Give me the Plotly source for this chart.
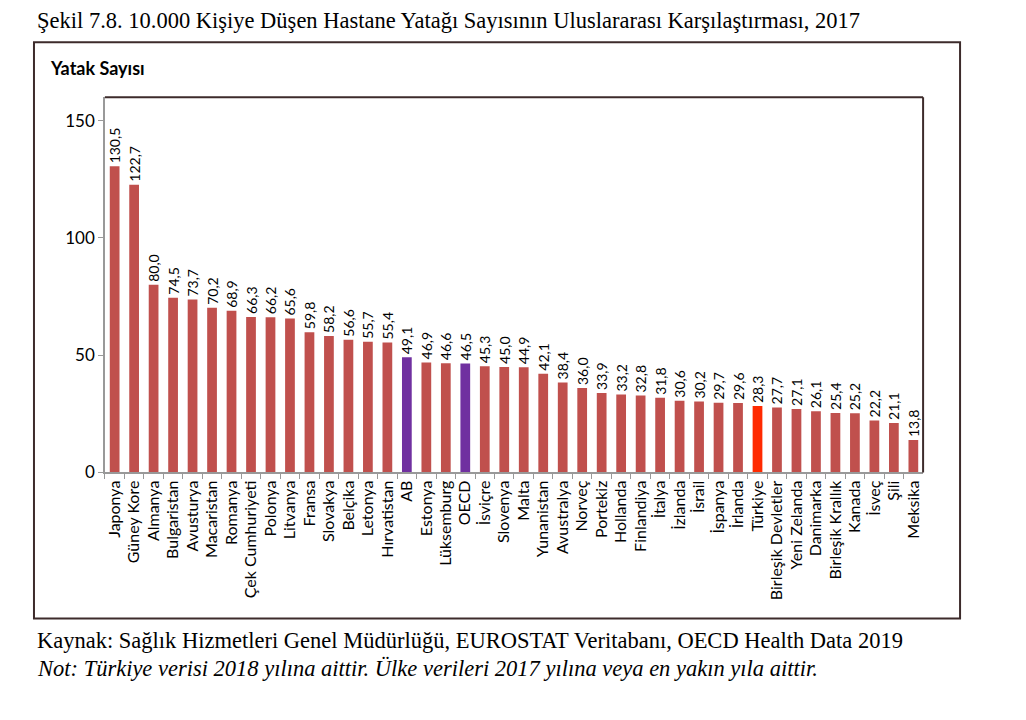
import plotly.graph_objects as go

countries = [
    "Japonya", "Güney Kore", "Almanya", "Bulgaristan", "Avusturya", "Macaristan",
    "Romanya", "Çek Cumhuriyeti", "Polonya", "Litvanya", "Fransa", "Slovakya",
    "Belçika", "Letonya", "Hırvatistan", "AB", "Estonya", "Lüksemburg", "OECD",
    "İsviçre", "Slovenya", "Malta", "Yunanistan", "Avustralya", "Norveç",
    "Portekiz", "Hollanda", "Finlandiya", "İtalya", "İzlanda", "İsrail",
    "İspanya", "İrlanda", "Türkiye", "Birleşik Devletler", "Yeni Zelanda",
    "Danimarka", "Birleşik Krallık", "Kanada", "İsveç", "Şili", "Meksika",
]
beds = [
    130.5, 122.7, 80.0, 74.5, 73.7, 70.2, 68.9, 66.3, 66.2, 65.6, 59.8, 58.2,
    56.6, 55.7, 55.4, 49.1, 46.9, 46.6, 46.5, 45.3, 45.0, 44.9, 42.1, 38.4,
    36.0, 33.9, 33.2, 32.8, 31.8, 30.6, 30.2, 29.7, 29.6, 28.3, 27.7, 27.1,
    26.1, 25.4, 25.2, 22.2, 21.1, 13.8,
]
y_ticks = [0, 50, 100, 150]

RED = "#C0504D"
PURPLE = "#7030A0"
TR_RED = "#FF2A00"
colors = [PURPLE if c in ("AB", "OECD") else TR_RED if c == "Türkiye" else RED
          for c in countries]

sans = "Lato, 'Open Sans', sans-serif"
serif = "'Liberation Serif', 'Times New Roman', serif"

# the page body has an 8px margin, so the figure starts at (8, 8);
# keep the height a bit short so the page never grows past the window
OFF = 8
W, H = 1026 - 2 * OFF, 700
YS = 1 / 0.985  # small vertical correction measured on the screenshot


def px(x):
    return (x - OFF) / W


def py(y):
    return 1 - (y * YS - OFF) / H


fig = go.Figure(go.Bar(
    x=countries, y=beds,
    marker=dict(color=colors, line=dict(width=0)),
    texttemplate="%{y:.1f}", textposition="outside", textangle=-90,
    textfont=dict(family=sans, size=14, color="#000"),
    constraintext="none", cliponaxis=False,
))

fig.update_layout(
    width=W, height=H,
    margin=dict(l=0, r=0, t=0, b=0),
    paper_bgcolor="white", plot_bgcolor="white",
    separators=",.",
    showlegend=False,
    bargap=0.5,
    font=dict(family=sans, color="#000"),
    xaxis=dict(
        domain=[px(104), px(923)], tickangle=-90, tickfont=dict(size=16),
        ticks="outside", tickson="boundaries", ticklen=5, tickcolor="#999",
        showline=True, linecolor="#999", linewidth=1.5,
    ),
    yaxis=dict(
        domain=[py(472), py(97)], range=[0, 160], tickvals=y_ticks,
        tickfont=dict(size=17), ticks="outside", ticklen=5, tickcolor="#999",
        showline=True, linecolor="#999", linewidth=1.5, showgrid=False,
        zeroline=False,
    ),
    shapes=[
        # outer frame
        dict(type="rect", xref="paper", yref="paper",
             x0=px(33), x1=px(960), y0=py(618), y1=py(42),
             line=dict(color="#3d2b2b", width=2)),
        # top and right edges of the plot area
        dict(type="line", xref="x domain", yref="y domain",
             x0=0, x1=1, y0=1, y1=1, line=dict(color="#3d2b2b", width=2)),
        dict(type="line", xref="x domain", yref="y domain",
             x0=1, x1=1, y0=0, y1=1, line=dict(color="#3d2b2b", width=2)),
    ],
    annotations=[
        dict(text="Şekil 7.8. 10.000 Kişiye Düşen Hastane Yatağı Sayısının "
                  "Uluslararası Karşılaştırması, 2017",
             xref="paper", yref="paper", x=px(34), y=py(20),
             xanchor="left", yanchor="middle", showarrow=False,
             font=dict(family=serif, size=22.5, color="#000")),
        dict(text="<b>Yatak Sayısı</b>",
             xref="paper", yref="paper", x=px(47), y=py(68),
             xanchor="left", yanchor="middle", showarrow=False,
             font=dict(family=sans, size=18, color="#000")),
        dict(text="Kaynak: Sağlık Hizmetleri Genel Müdürlüğü, EUROSTAT Veritabanı, "
                  "OECD Health Data 2019",
             xref="paper", yref="paper", x=px(34), y=py(640),
             xanchor="left", yanchor="middle", showarrow=False,
             font=dict(family=serif, size=22.5, color="#000")),
        dict(text="<i>Not: Türkiye verisi 2018 yılına aittir. Ülke verileri 2017 "
                  "yılına veya en yakın yıla aittir.</i>",
             xref="paper", yref="paper", x=px(34), y=py(668),
             xanchor="left", yanchor="middle", showarrow=False,
             font=dict(family=serif, size=22.5, color="#000")),
    ],
)

fig.write_html("out.html")
